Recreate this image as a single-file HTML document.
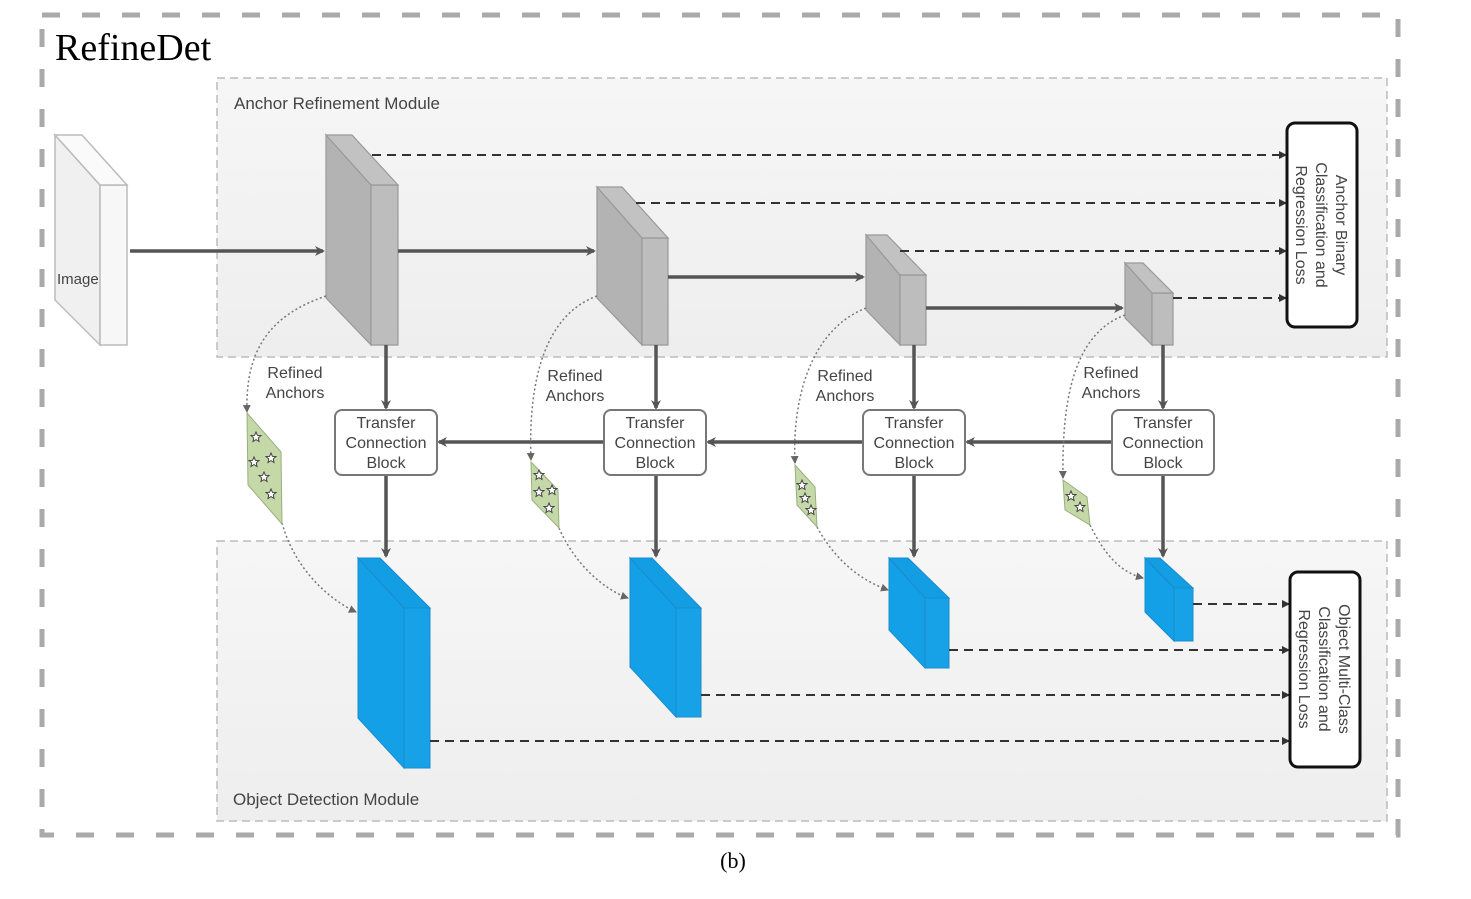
<!DOCTYPE html>
<html><head><meta charset="utf-8"><style>
html,body{margin:0;padding:0;background:#fff;}
svg{display:block;}
text{font-family:"Liberation Sans",sans-serif;fill:#444;}
</style></head><body>
<svg width="1471" height="899" viewBox="0 0 1471 899" xmlns="http://www.w3.org/2000/svg">
<defs>
<marker id="ah" markerWidth="10" markerHeight="10" refX="8" refY="5" orient="auto" markerUnits="userSpaceOnUse"><path d="M0,0 L10,5 L0,10 L3,5 z" fill="#555"/></marker>
<marker id="ahd" markerWidth="8" markerHeight="8" refX="7" refY="4" orient="auto" markerUnits="userSpaceOnUse"><path d="M0,0 L8,4 L0,8 z" fill="#333"/></marker>
<marker id="aht" markerWidth="8" markerHeight="8" refX="7" refY="4" orient="auto" markerUnits="userSpaceOnUse"><path d="M0,0 L8,4 L0,8 z" fill="#666"/></marker>
<linearGradient id="gbg" x1="0" y1="0" x2="0" y2="1"><stop offset="0" stop-color="#f6f6f6"/><stop offset="1" stop-color="#eeeeee"/></linearGradient>
<g id="star"><path d="M0,-5 L1.5,-1.6 L5,-1.5 L2.3,0.9 L3,4.5 L0,2.6 L-3,4.5 L-2.3,0.9 L-5,-1.5 L-1.5,-1.6 z" fill="#fff" stroke="#444" stroke-width="1"/></g>
</defs>

<!-- outer dashed border -->
<rect x="42" y="15" width="1356" height="820" fill="none" stroke="#aaa" stroke-width="5" stroke-dasharray="18 22"/>
<text x="55" y="60" style="font-family:'Liberation Serif',serif;font-size:38px;fill:#000">RefineDet</text>
<text x="733" y="868" text-anchor="middle" style="font-family:'Liberation Serif',serif;font-size:22px;fill:#000">(b)</text>

<!-- module boxes -->
<rect x="217" y="78" width="1170" height="279" fill="url(#gbg)" stroke="#bbb" stroke-width="1.5" stroke-dasharray="8 5"/>
<rect x="217" y="541" width="1170" height="280" fill="url(#gbg)" stroke="#bbb" stroke-width="1.5" stroke-dasharray="8 5"/>
<text x="234" y="109" font-size="17">Anchor Refinement Module</text>
<text x="233" y="805" font-size="17">Object Detection Module</text>

<!-- image block -->
<g stroke="#bbb" stroke-width="1.5">
<polygon points="55,135 100,185 100,345 55,300" fill="#f0f0f0"/>
<polygon points="100,185 127,185 127,345 100,345" fill="#f7f7f7"/>
<polygon points="55,135 82,135 127,185 100,185" fill="#fafafa"/>
</g>
<text x="57" y="284" font-size="15">Image</text>

<!-- gray blocks -->
<g stroke="#999" stroke-width="1.2">
<polygon points="326,135 371,185 371,345 326,298" fill="#b3b3b3"/>
<polygon points="371,185 398,185 398,345 371,345" fill="#bdbdbd"/>
<polygon points="326,135 352,135 398,185 371,185" fill="#c2c2c2"/>

<polygon points="597,187 642,238 642,345 597,298" fill="#b3b3b3"/>
<polygon points="642,238 668,238 668,345 642,345" fill="#bdbdbd"/>
<polygon points="597,187 622,187 668,238 642,238" fill="#c2c2c2"/>

<polygon points="866,235 900,275 900,345 866,310" fill="#b3b3b3"/>
<polygon points="900,275 926,275 926,345 900,345" fill="#bdbdbd"/>
<polygon points="866,235 887,235 926,275 900,275" fill="#c2c2c2"/>

<polygon points="1125,263 1152,293 1152,345 1125,318" fill="#b3b3b3"/>
<polygon points="1152,293 1173,293 1173,345 1152,345" fill="#bdbdbd"/>
<polygon points="1125,263 1143,263 1173,293 1152,293" fill="#c2c2c2"/>
</g>

<!-- blue blocks -->
<g stroke="#1a8ccc" stroke-width="1">
<polygon points="358,558 404,608 404,768 358,718" fill="#14a0e6"/>
<polygon points="404,608 430,608 430,768 404,768" fill="#17a2e8"/>
<polygon points="358,558 380,558 430,608 404,608" fill="#139de3"/>

<polygon points="630,558 676,608 676,717 630,667" fill="#14a0e6"/>
<polygon points="676,608 701,608 701,717 676,717" fill="#17a2e8"/>
<polygon points="630,558 652,558 701,608 676,608" fill="#139de3"/>

<polygon points="889,558 925,598 925,668 889,630" fill="#14a0e6"/>
<polygon points="925,598 949,598 949,668 925,668" fill="#17a2e8"/>
<polygon points="889,558 908,558 949,598 925,598" fill="#139de3"/>

<polygon points="1145,558 1174,588 1174,641 1145,612" fill="#14a0e6"/>
<polygon points="1174,588 1193,588 1193,641 1174,641" fill="#17a2e8"/>
<polygon points="1145,558 1160,558 1193,588 1174,588" fill="#139de3"/>
</g>

<!-- solid arrows -->
<g stroke="#555" stroke-width="3.5" fill="none" marker-end="url(#ah)">
<line x1="130" y1="251" x2="323" y2="251"/>
<line x1="398" y1="251" x2="594" y2="251"/>
<line x1="668" y1="277" x2="863" y2="277"/>
<line x1="926" y1="308" x2="1122" y2="308"/>
<line x1="386" y1="345" x2="386" y2="408"/>
<line x1="656" y1="345" x2="656" y2="408"/>
<line x1="914" y1="345" x2="914" y2="408"/>
<line x1="1163" y1="345" x2="1163" y2="408"/>
<line x1="386" y1="475" x2="386" y2="556"/>
<line x1="656" y1="475" x2="656" y2="556"/>
<line x1="914" y1="475" x2="914" y2="556"/>
<line x1="1163" y1="475" x2="1163" y2="556"/>
<line x1="604" y1="442" x2="439" y2="442"/>
<line x1="863" y1="442" x2="708" y2="442"/>
<line x1="1112" y1="442" x2="967" y2="442"/>
</g>

<!-- dashed arrows -->
<g stroke="#333" stroke-width="2" fill="none" stroke-dasharray="9 6" marker-end="url(#ahd)">
<line x1="372" y1="155" x2="1286" y2="155"/>
<line x1="636" y1="203" x2="1286" y2="203"/>
<line x1="900" y1="251" x2="1286" y2="251"/>
<line x1="1173" y1="298" x2="1286" y2="298"/>
<line x1="1193" y1="604" x2="1289" y2="604"/>
<line x1="949" y1="650" x2="1289" y2="650"/>
<line x1="701" y1="695" x2="1289" y2="695"/>
<line x1="430" y1="741" x2="1289" y2="741"/>
</g>

<!-- TCB boxes -->
<g fill="#fff" stroke="#777" stroke-width="2">
<rect x="335" y="410" width="102" height="65" rx="7"/>
<rect x="604" y="410" width="102" height="65" rx="7"/>
<rect x="863" y="410" width="102" height="65" rx="7"/>
<rect x="1112" y="410" width="102" height="65" rx="7"/>
</g>
<g font-size="16" text-anchor="middle">
<text x="386" y="428">Transfer</text><text x="386" y="448">Connection</text><text x="386" y="468">Block</text>
<text x="655" y="428">Transfer</text><text x="655" y="448">Connection</text><text x="655" y="468">Block</text>
<text x="914" y="428">Transfer</text><text x="914" y="448">Connection</text><text x="914" y="468">Block</text>
<text x="1163" y="428">Transfer</text><text x="1163" y="448">Connection</text><text x="1163" y="468">Block</text>
</g>

<!-- Refined anchors labels -->
<g font-size="16" text-anchor="middle">
<text x="295" y="378">Refined</text><text x="295" y="398">Anchors</text>
<text x="575" y="381">Refined</text><text x="575" y="401">Anchors</text>
<text x="845" y="381">Refined</text><text x="845" y="401">Anchors</text>
<text x="1111" y="378">Refined</text><text x="1111" y="398">Anchors</text>
</g>

<!-- dotted curves -->
<g stroke="#777" stroke-width="1.5" fill="none" stroke-dasharray="2 2.5" marker-end="url(#aht)">
<path d="M326,296 C270,315 245,350 247,412"/>
<path d="M282,523 C295,570 330,600 356,612"/>
<path d="M597,296 C545,315 528,380 531,460"/>
<path d="M559,528 C575,565 605,590 628,598"/>
<path d="M866,308 C810,330 792,400 795,463"/>
<path d="M817,527 C835,560 860,580 888,590"/>
<path d="M1125,315 C1070,335 1062,410 1063,478"/>
<path d="M1090,525 C1105,555 1120,572 1143,578"/>
</g>

<!-- green parallelograms -->
<g fill="#c5d9a8" stroke="#9aae80" stroke-width="1">
<polygon points="247,413 281,452 282,524 248,485"/>
<polygon points="531,462 558,490 559,528 532,500"/>
<polygon points="795,465 815,487 817,527 797,505"/>
<polygon points="1063,480 1087,497 1090,525 1065,510"/>
</g>
<use href="#star" x="256" y="437"/><use href="#star" x="271" y="458"/><use href="#star" x="254" y="462"/><use href="#star" x="264" y="477"/><use href="#star" x="271" y="494"/>
<use href="#star" x="539" y="475"/><use href="#star" x="552" y="490"/><use href="#star" x="539" y="492"/><use href="#star" x="549" y="508"/>
<use href="#star" x="802" y="485"/><use href="#star" x="805" y="498"/><use href="#star" x="811" y="510"/>
<use href="#star" x="1071" y="496"/><use href="#star" x="1080" y="507"/>

<!-- loss boxes -->
<rect x="1287" y="123" width="70" height="204" rx="8" fill="#fff" stroke="#111" stroke-width="3"/>
<rect x="1290" y="572" width="70" height="195" rx="8" fill="#fff" stroke="#111" stroke-width="3"/>
<g font-size="16" text-anchor="middle" style="fill:#333">
<g transform="translate(1322,225) rotate(90)">
<text x="0" y="-14">Anchor Binary</text><text x="0" y="6">Classification and</text><text x="0" y="26">Regression Loss</text>
</g>
<g transform="translate(1325,669) rotate(90)">
<text x="0" y="-14">Object Multi-Class</text><text x="0" y="6">Classification and</text><text x="0" y="26">Regression Loss</text>
</g>
</g>
</svg>
</body></html>
